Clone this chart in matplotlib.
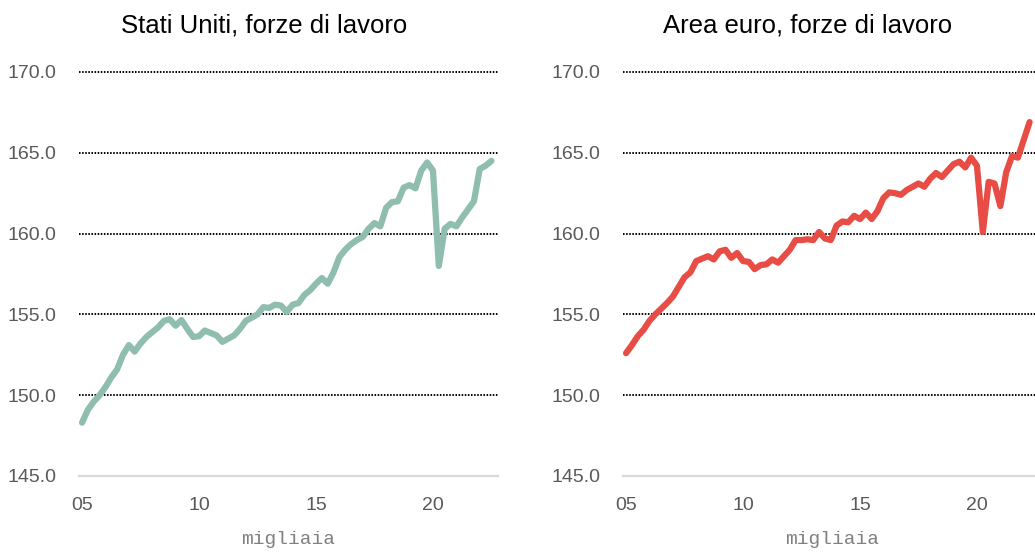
import numpy as np
import matplotlib
matplotlib.use("Agg")
import matplotlib.pyplot as plt

plt.rcParams['font.family'] = ['Liberation Sans', 'DejaVu Sans']

# quarterly data, 2005Q1 onwards (millions)
us_labour = [148.3, 149.1, 149.6, 150.0, 150.5, 151.1, 151.6, 152.5, 153.1, 152.7,
             153.2, 153.6, 153.9, 154.2, 154.6, 154.7, 154.3, 154.65, 154.1, 153.6,
             153.65, 154.0, 153.85, 153.7, 153.3, 153.5, 153.7, 154.1, 154.6, 154.8,
             155.0, 155.45, 155.4, 155.6, 155.55, 155.15, 155.6, 155.7, 156.2, 156.5,
             156.9, 157.25, 156.9, 157.6, 158.55, 159.0, 159.35, 159.6, 159.8, 160.3,
             160.65, 160.45, 161.6, 161.95, 162.0, 162.85, 163.0, 162.8, 163.9, 164.4,
             163.9, 158.0, 160.3, 160.6, 160.45, 161.0, 161.5, 162.0, 164.0, 164.2,
             164.5]
ea_labour = [152.6, 153.1, 153.65, 154.05, 154.6, 155.0, 155.35, 155.7, 156.1, 156.7,
             157.3, 157.6, 158.3, 158.45, 158.6, 158.4, 158.9, 159.0, 158.5, 158.8,
             158.3, 158.25, 157.8, 158.05, 158.1, 158.4, 158.2, 158.6, 159.0, 159.6,
             159.6, 159.65, 159.6, 160.1, 159.7, 159.6, 160.5, 160.75, 160.7, 161.1,
             160.9, 161.3, 160.9, 161.4, 162.2, 162.55, 162.5, 162.4, 162.7, 162.9,
             163.1, 162.9, 163.4, 163.75, 163.5, 163.9, 164.3, 164.45, 164.1, 164.7,
             164.2, 160.1, 163.2, 163.1, 161.7, 163.8, 164.8, 164.7, 165.8, 166.9]

titles = ["Stati Uniti, forze di lavoro", "Area euro, forze di lavoro"]
colors = ["#8fbdaf", "#e84d45"]
yticks = [145, 150, 155, 160, 165, 170]
xticks = [2005, 2010, 2015, 2020]
xticklabels = ["05", "10", "15", "20"]

W, H = 1035, 554
fig = plt.figure(figsize=(W / 100, H / 100), dpi=100)

panels = [(79, us_labour, 264), (623, ea_labour, 808)]
for k, (left_px, series, title_x) in enumerate(panels):
    ax = fig.add_axes([left_px / W, 1 - 476 / H, 419 / W, 404 / H])
    t = 2005 + np.arange(len(series)) / 4
    ax.plot(t, series, color=colors[k], lw=4.5, solid_joinstyle='round',
            solid_capstyle='round', zorder=3)

    ax.set_xlim(2004.87, 2022.78)
    ax.set_ylim(145, 170)
    # dotted gridlines, none at the baseline
    for y in yticks[1:]:
        ax.axhline(y, color='black', lw=1.4, ls=(0, (0.8, 0.8)), zorder=1, clip_on=False)

    for s in ['top', 'right', 'left']:
        ax.spines[s].set_visible(False)
    ax.spines['bottom'].set_color('#d9d9d9')
    ax.spines['bottom'].set_linewidth(1.6)

    ax.set_yticks(yticks)
    ax.set_yticklabels([f"{v:.1f}" for v in yticks])
    ax.set_xticks(xticks)
    ax.set_xticklabels(xticklabels)
    ax.tick_params(axis='y', length=0, pad=16, labelsize=14, labelcolor='#595959')
    ax.tick_params(axis='x', length=0, pad=15, labelsize=14, labelcolor='#595959')

    ax.set_xlabel("migliaia", family=['Liberation Mono', 'DejaVu Sans Mono'],
                  fontsize=14, color='#808080', labelpad=12)

    fig.text(title_x / W, 1 - 33 / H, titles[k], ha='center', va='baseline',
             fontsize=18.5, color='black')

fig.savefig("out.png", dpi=100)
